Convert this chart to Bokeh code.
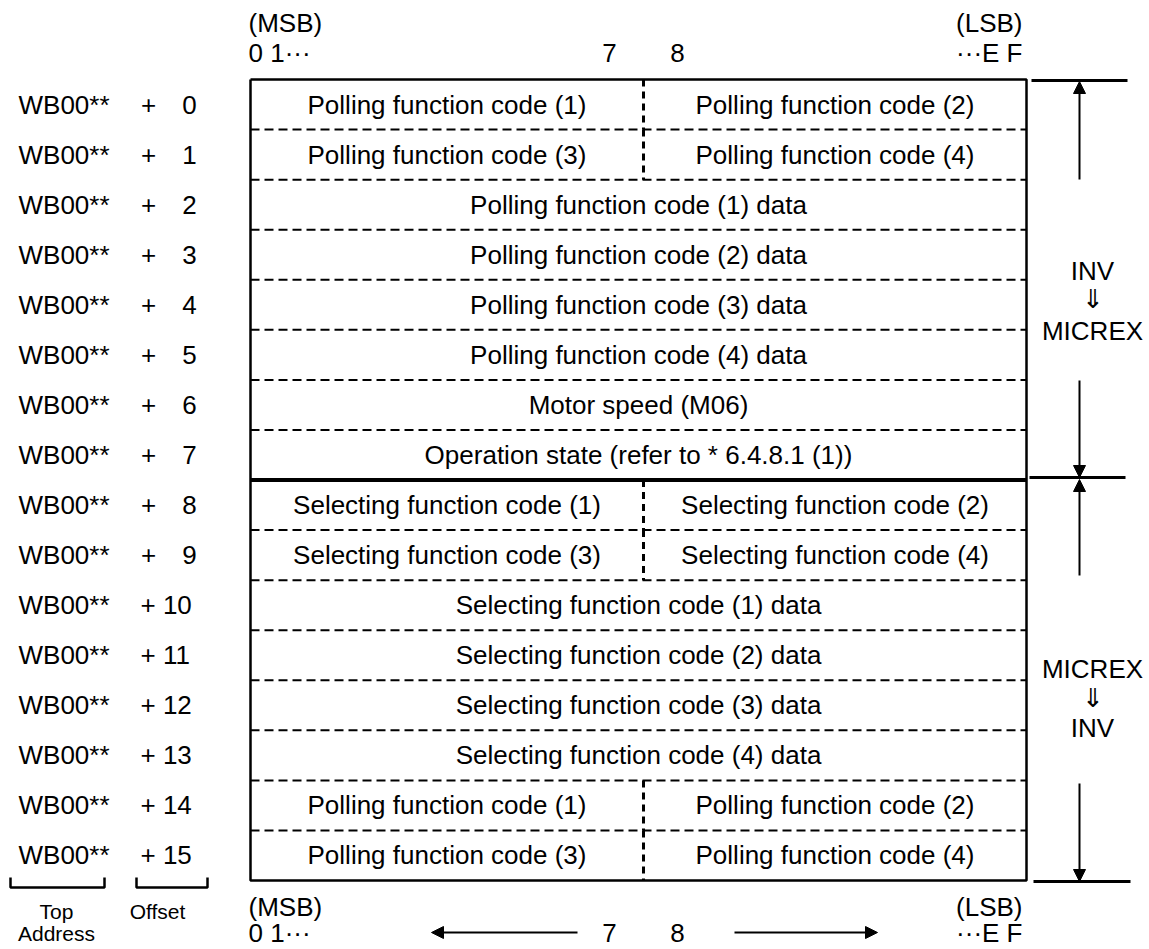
from bokeh.plotting import figure
from bokeh.models import Range1d, Arrow, NormalHead
from bokeh.core.properties import value
from bokeh.embed import file_html
from bokeh.resources import INLINE

# ---------------- data ----------------
top_address = ["WB00**"] * 16
offsets = list(range(16))
left_cells = [
    "Polling function code (1)",
    "Polling function code (3)",
    "Polling function code (1) data",
    "Polling function code (2) data",
    "Polling function code (3) data",
    "Polling function code (4) data",
    "Motor speed (M06)",
    "Operation state (refer to * 6.4.8.1 (1))",
    "Selecting function code (1)",
    "Selecting function code (3)",
    "Selecting function code (1) data",
    "Selecting function code (2) data",
    "Selecting function code (3) data",
    "Selecting function code (4) data",
    "Polling function code (1)",
    "Polling function code (3)",
]
right_cells = [
    "Polling function code (2)",
    "Polling function code (4)",
    None, None, None, None, None, None,
    "Selecting function code (2)",
    "Selecting function code (4)",
    None, None, None, None,
    "Polling function code (2)",
    "Polling function code (4)",
]
dir_upper = ["INV", "\u21d3", "MICREX"]
dir_lower = ["MICREX", "\u21d3", "INV"]
bit_msb = ["(MSB)", "0 1\u00b7\u00b7\u00b7"]
bit_mid = ["7", "8"]
bit_lsb = ["(LSB)", "\u00b7\u00b7\u00b7E F"]
legend_labels = ["Top", "Address", "Offset"]

# ---------------- geometry ----------------
W, H = 1149, 949
X0, X1, XM = 250, 1026, 643
Y0, Y1 = 79, 880
RH = (Y1 - Y0) / 16.0
FONT = value("Liberation Sans")
FS = "26px"
INK = "black"

p = figure(width=W, height=H, output_backend="svg", toolbar_location=None,
           x_range=Range1d(0, W), y_range=Range1d(H, 0),
           min_border=0, outline_line_color=None)
p.axis.visible = False
p.xgrid.visible = False
p.ygrid.visible = False
p.background_fill_color = "white"
p.border_fill_color = "white"

def rc(i):
    return Y0 + RH * (i + 0.5)

def txt(xs, ys, texts, align="center", size=FS):
    p.text(x=xs, y=ys, text=texts, text_align=align, text_baseline="middle",
           text_font=FONT, text_font_size=size, text_color=INK)

# row separators
dash_y = [Y0 + RH * k for k in range(1, 16) if k != 8]
p.segment(x0=[X0] * len(dash_y), y0=dash_y, x1=[X1] * len(dash_y), y1=dash_y,
          line_color=INK, line_width=2, line_dash="9 5")
p.segment(x0=[X0], y0=[Y0 + RH * 8], x1=[X1], y1=[Y0 + RH * 8],
          line_color=INK, line_width=4)

# vertical dividers for split rows
split = [i for i, r in enumerate(right_cells) if r is not None]
p.segment(x0=[XM] * len(split), y0=[Y0 + RH * i for i in split],
          x1=[XM] * len(split), y1=[Y0 + RH * (i + 1) for i in split],
          line_color=INK, line_width=3, line_dash="7 5")

# border
p.line(x=[X0, X1, X1, X0, X0], y=[Y0, Y0, Y1, Y1, Y0], line_color=INK, line_width=2.5)

# cell texts
cx, cy, ct = [], [], []
for i, (l, r) in enumerate(zip(left_cells, right_cells)):
    if r is None:
        cx.append((X0 + X1) / 2); cy.append(rc(i)); ct.append(l)
    else:
        cx.append((X0 + XM) / 2); cy.append(rc(i)); ct.append(l)
        cx.append((XM + X1) / 2); cy.append(rc(i)); ct.append(r)
txt(cx, cy, ct)

# address column
txt([18] * 16, [rc(i) for i in range(16)], top_address, align="left")
small = [o for o in offsets if o < 10]
big = [o for o in offsets if o >= 10]
txt([148] * len(small), [rc(o) for o in small], ["+"] * len(small))
txt([189] * len(small), [rc(o) for o in small], [str(o) for o in small])
txt([140] * len(big), [rc(o) for o in big], ["+ %d" % o for o in big], align="left")

# brackets
for xa, xb in [(10, 104), (136, 207)]:
    p.line(x=[xa, xa, xb, xb], y=[877, 887, 887, 877], line_color=INK, line_width=2.5)
txt([56, 56], [911, 933], legend_labels[:2], size="21px")
txt([157], [911], [legend_labels[2]], size="21px")

# bit headers (top and bottom)
for ya, yb in [(22, 52), (906, 932)]:
    txt([248, 248], [ya, yb], bit_msb, align="left")
    txt([609, 677], [yb, yb], bit_mid)
    txt([1022, 1022], [ya, yb], bit_lsb, align="right")

# bottom horizontal arrows
for xs, xe in [(577, 431), (734, 877)]:
    p.add_layout(Arrow(x_start=xs, y_start=932, x_end=xe, y_end=932, line_width=2,
                       line_color=INK,
                       end=NormalHead(size=12, fill_color=INK, line_color=INK)))

# right side direction arrows
AX = 1079
for ys, ye in [(179, 81), (380, 477), (575, 479), (783, 881)]:
    p.add_layout(Arrow(x_start=AX, y_start=ys, x_end=AX, y_end=ye, line_width=2,
                       line_color=INK,
                       end=NormalHead(size=12, fill_color=INK, line_color=INK)))
p.segment(x0=[1031, 1029, 1033], y0=[80, 477, 881], x1=[1127, 1125, 1130], y1=[80, 477, 881],
          line_color=INK, line_width=3)
txt([1092] * 3, [270, 298, 330], dir_upper)
txt([1092] * 3, [668, 697, 727], dir_lower)

open("out.html", "w").write(file_html(p, INLINE))
